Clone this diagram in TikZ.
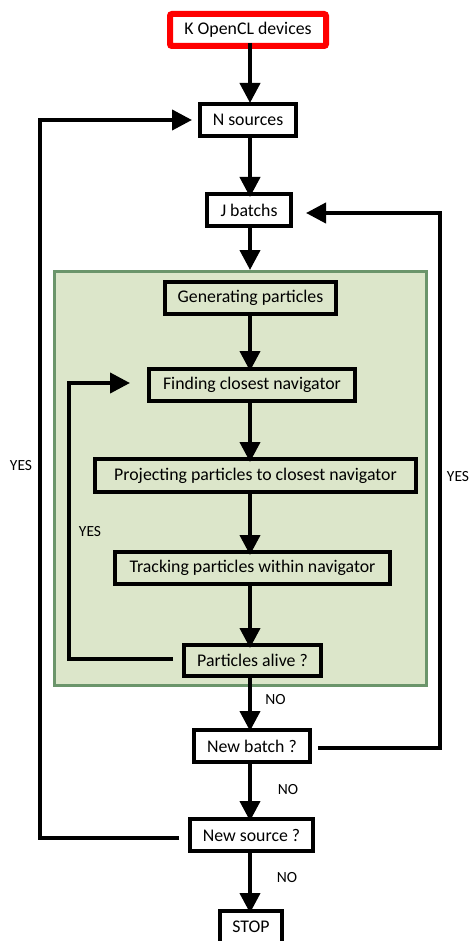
\documentclass[tikz,border=0pt]{standalone}
\usepackage{fontspec}
\setmainfont{Carlito}
\usetikzlibrary{arrows.meta}
\definecolor{panelfill}{HTML}{DCE6CA}
\definecolor{paneledge}{HTML}{6B956B}
\begin{document}
\begin{tikzpicture}[x=1pt,y=-1pt,
  box/.style={draw=black, line width=4pt, fill=white, inner sep=0pt,
    minimum height=32pt, font=\fontsize{17.8}{20}\selectfont},
  inbox/.style={box, fill=panelfill},
  flow/.style={line width=4pt, -{Triangle[width=20pt,length=20pt]}},
  link/.style={line width=4pt},
  tag/.style={font=\fontsize{15.5}{17}\selectfont, inner sep=0pt}]
\useasboundingbox (0,0) rectangle (470,941);
\clip (0,0) rectangle (470,941);

% vertical guide for the main flow and the return buses
\coordinate (spine) at (250,0);
\coordinate (lbus) at (40,0);
\coordinate (rbus) at (440,0);
\coordinate (ibus) at (69,0);

% panel holding the per-batch particle loop
\node[draw=paneledge, fill=panelfill, line width=3pt, inner sep=0pt,
  minimum width=372pt, minimum height=414pt] (panel) at (240.5,478.5) {};

% boxes
\node[box, draw=red, line width=6pt, rounded corners=2pt,
  minimum width=156pt] (dev) at (248,30) {K OpenCL devices};
\node[box, minimum width=96pt] (src) at (248,120) {N sources};
\node[box, minimum width=84pt] (bat) at (249,210) {J batchs};
\node[inbox, minimum width=171pt] (gen) at (250.5,298) {Generating particles};
\node[inbox, minimum width=206pt] (find) at (252,385) {Finding closest navigator};
\node[inbox, minimum width=321pt, minimum height=33pt] (proj) at (255.5,475.5) {Projecting particles to closest navigator};
\node[inbox, minimum width=275pt] (track) at (252.5,568) {Tracking particles within navigator};
\node[inbox, minimum width=137pt, minimum height=31pt] (alive) at (252.5,660.5) {Particles alive ?};
\node[box, minimum width=116pt] (nbat) at (252,746) {New batch ?};
\node[box, minimum width=123pt] (nsrc) at (251.5,835) {New source ?};
\node[box, minimum width=62pt] (stop) at (251,927) {STOP};

% main downward flow
\draw[flow] ([yshift=6pt]dev.south -| spine) -- ([yshift=-1pt]src.north -| spine);
\draw[flow] ([yshift=3pt]src.south -| spine) -- ([yshift=-5pt]bat.north -| spine);
\draw[flow] ([yshift=3pt]bat.south -| spine) -- (panel.north -| spine);
\draw[flow] ([yshift=3pt]gen.south -| spine) -- ([yshift=-4pt]find.north -| spine);
\draw[flow] ([yshift=4pt]find.south -| spine) -- ([yshift=-5pt]proj.north -| spine);
\draw[flow] ([yshift=4pt]proj.south -| spine) -- ([yshift=-5pt]track.north -| spine);
\draw[flow] ([yshift=4pt]track.south -| spine) -- ([yshift=-5pt]alive.north -| spine);
\draw[flow] ([yshift=2pt]alive.south -| spine) -- ([yshift=-3pt]nbat.north -| spine);
\draw[flow] ([yshift=4pt]nbat.south -| spine) -- ([yshift=-4pt]nsrc.north -| spine);
\draw[flow] ([yshift=4pt]nsrc.south -| spine) -- ([yshift=-4pt]stop.north -| spine);

% return loops
\draw[flow] ([xshift=-9pt,yshift=-3pt]nsrc.west) -- ([yshift=-3pt]nsrc.west -| lbus)
  |- ([xshift=-6pt]src.west);
\draw[flow] ([xshift=6pt,yshift=-2pt]nbat.east) -- ([yshift=-2pt]nbat.east -| rbus)
  |- ([xshift=13pt,yshift=-3pt]bat.east);
\draw[flow] ([xshift=-9pt,yshift=1.5pt]alive.west) -- ([yshift=1.5pt]alive.west -| ibus)
  |- ([xshift=-17pt,yshift=2pt]find.west);

% branch labels
\node[tag] (yesl) at (21,466) {YES};
\node[tag] (yesr) at (458,477) {YES};
\node[tag] (yesi) at (90,532) {YES};
\node[tag] (no1) at (275.5,700) {NO};
\node[tag] (no2) at (288,790) {NO};
\node[tag] (no3) at (287,878) {NO};
\end{tikzpicture}
\end{document}
